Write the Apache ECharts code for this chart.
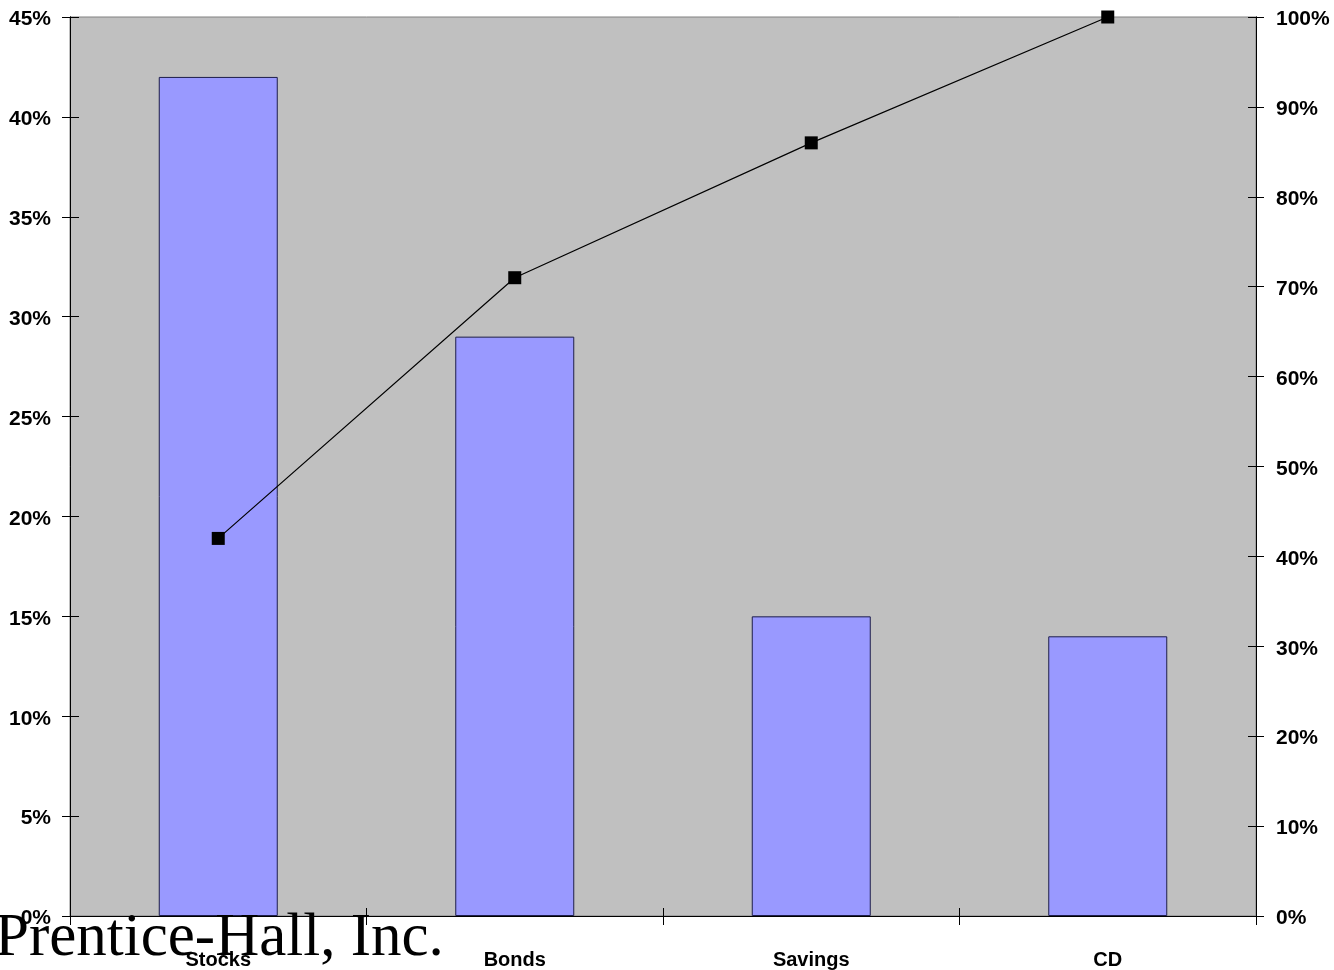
<!DOCTYPE html>
<html>
<head>
<meta charset="utf-8">
<script src="https://cdn.jsdelivr.net/npm/echarts@6/dist/echarts.min.js"></script>
<style>
html,body{margin:0;padding:0;background:#fff;}
#chart{width:1334px;height:970px;}
</style>
</head>
<body>
<div id="chart"></div>
<script>
const categories = ['Stocks', 'Bonds', 'Savings', 'CD'];
const shareValues = [42, 29, 15, 14];
const cumulativeValues = [42, 71, 86, 100];
const leftTicks = { min: 0, max: 45, interval: 5 };
const rightTicks = { min: 0, max: 100, interval: 10 };
const watermark = 'Prentice-Hall, Inc.';

const labelFont = { color: '#000', fontFamily: 'Liberation Sans, Arial, sans-serif', fontWeight: 'bold', fontSize: 21 };
const lineStyle = { color: '#000', width: 1 };
const shiftedRich = { v: { color: '#000', fontFamily: 'Liberation Sans, Arial, sans-serif', fontWeight: 'bold', fontSize: 21, padding: [5, 0, 0, 0] } };

const chart = echarts.init(document.getElementById('chart'));
chart.setOption({
  animation: false,
  backgroundColor: '#fff',
  grid: { left: 70, right: 78, top: 17, bottom: 54, show: true, backgroundColor: '#c0c0c0', borderColor: '#808080', borderWidth: 1 },
  xAxis: [
    {
      type: 'category', data: categories, position: 'bottom',
      axisLine: { show: true, lineStyle: lineStyle },
      axisTick: { show: true, inside: false, length: 9, lineStyle: lineStyle },
      axisLabel: Object.assign({}, labelFont, { margin: 34, fontSize: 20 }),
      splitLine: { show: false }
    },
    {
      type: 'category', data: categories, position: 'bottom', gridIndex: 0,
      axisLine: { show: true, lineStyle: lineStyle },
      axisTick: { show: true, inside: true, length: 8, lineStyle: lineStyle },
      axisLabel: { show: false },
      splitLine: { show: false }
    }
  ],
  yAxis: [
    {
      type: 'value', position: 'left', min: leftTicks.min, max: leftTicks.max, interval: leftTicks.interval,
      axisLine: { show: true, lineStyle: lineStyle },
      axisTick: { show: true, inside: false, length: 8, lineStyle: lineStyle },
      axisLabel: Object.assign({ margin: 19, formatter: '{v|{value}%}', rich: shiftedRich }, labelFont),
      splitLine: { show: false }
    },
    {
      type: 'value', position: 'right', min: rightTicks.min, max: rightTicks.max, interval: rightTicks.interval,
      axisLine: { show: true, lineStyle: lineStyle },
      axisTick: { show: true, inside: false, length: 8, lineStyle: lineStyle },
      axisLabel: Object.assign({ margin: 20, formatter: '{v|{value}%}', rich: shiftedRich }, labelFont),
      splitLine: { show: false }
    },
    {
      type: 'value', position: 'left', offset: 0, min: leftTicks.min, max: leftTicks.max, interval: leftTicks.interval,
      axisLine: { show: true, lineStyle: lineStyle },
      axisTick: { show: true, inside: true, length: 9, lineStyle: lineStyle },
      axisLabel: { show: false },
      splitLine: { show: false }
    },
    {
      type: 'value', position: 'right', offset: 0, min: rightTicks.min, max: rightTicks.max, interval: rightTicks.interval,
      axisLine: { show: true, lineStyle: lineStyle },
      axisTick: { show: true, inside: true, length: 8, lineStyle: lineStyle },
      axisLabel: { show: false },
      splitLine: { show: false }
    }
  ],
  series: [
    {
      type: 'bar', data: shareValues, xAxisIndex: 0, yAxisIndex: 0,
      barWidth: 119,
      itemStyle: { color: '#9999ff', borderColor: '#1e1e4a', borderWidth: 1 }
    },
    {
      type: 'line', data: cumulativeValues, xAxisIndex: 0, yAxisIndex: 1,
      symbol: 'rect', symbolSize: 13, showSymbol: true,
      lineStyle: { color: '#000', width: 1.2 },
      itemStyle: { color: '#000' },
      z: 5
    }
  ],
  graphic: [
    {
      type: 'text', left: -5, top: 908, z: 100,
      style: { text: watermark, font: '61px "Liberation Serif", "Times New Roman", serif', fill: '#000' }
    }
  ]
});
</script>
</body>
</html>
